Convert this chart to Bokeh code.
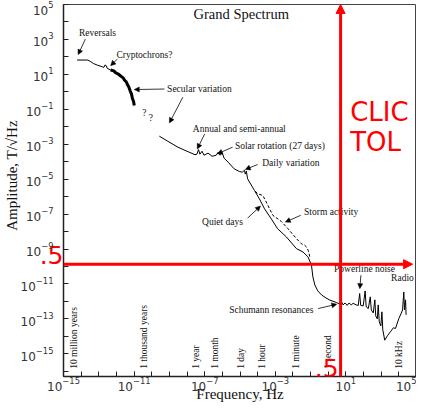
import numpy as np
from bokeh.plotting import figure
from bokeh.models import FixedTicker, LogTickFormatter, Label, Arrow, NormalHead, Range1d, LogAxis
from bokeh.embed import file_html
from bokeh.resources import INLINE

# ---------------- data (log10 of frequency in Hz, log10 of amplitude in T/sqrt(Hz))
reversal_logf = [-14.23, -13.62, -13.45, -13.30, -13.09, -12.93, -12.80, -12.71, -12.65, -12.57, -12.52, -12.33, -12.06]
reversal_loga = [1.82, 1.82, 1.72, 1.62, 1.53, 1.48, 1.43, 1.40, 1.54, 1.49, 1.34, 1.25, 1.14]

secular_logf = [-12.33, -12.15, -12.06, -11.90, -11.78, -11.62, -11.55, -11.45, -11.38, -11.30, -11.23, -11.15, -11.09, -11.03, -10.99]
secular_loga = [1.25, 1.20, 1.10, 1.02, 0.92, 0.80, 0.68, 0.58, 0.42, 0.28, 0.07, -0.12, -0.40, -0.55, -0.79]

main_logf = [-9.57, -9.09, -8.52, -7.94, -7.55, -7.44, -7.35, -7.27, -7.15, -7.04, -6.81, -6.58, -6.35,
             -6.24, -6.12, -6.01, -5.90, -5.67, -5.33, -5.04, -4.87, -4.75, -4.70, -4.64, -4.57, -4.18,
             -3.90, -3.61, -3.23, -2.87, -2.37, -1.80, -1.43, -1.14, -0.95, -0.87, -0.76, -0.59, -0.38,
             -0.13, 0.10, 0.48, 0.61, 0.73, 0.84, 0.95, 1.07, 1.18, 1.30, 1.41, 1.58, 1.70, 1.78, 1.84,
             1.98, 2.09, 2.15, 2.27, 2.38, 2.44, 2.55, 2.64, 2.69, 2.78, 2.83, 2.89, 2.98, 3.04, 3.09,
             3.20, 3.35, 3.52, 3.69, 3.81, 4.00, 4.12, 4.21, 4.28, 4.32, 4.38, 4.41]
main_loga = [-2.54, -2.83, -3.17, -3.43, -3.60, -3.57, -3.31, -3.57, -3.40, -3.63, -3.51, -3.69, -3.63,
             -3.46, -3.63, -3.49, -3.80, -4.03, -4.41, -4.56, -4.60, -4.49, -4.71, -4.54, -4.98, -5.65,
             -6.13, -6.70, -7.27, -7.84, -8.31, -8.98, -9.17, -9.46, -9.93, -10.60, -11.06, -11.40, -11.63,
             -11.80, -11.93, -12.07, -12.14, -11.97, -12.20, -12.09, -12.23, -12.09, -12.20, -12.11, -12.20,
             -12.23, -11.55, -12.23, -12.26, -11.40, -12.31, -12.41, -11.74, -12.49, -12.66, -11.91, -12.83,
             -13.00, -12.20, -13.17, -13.40, -12.60, -13.63, -14.22, -13.97, -13.74, -13.51, -13.55, -12.98,
             -12.71, -12.49, -11.46, -12.49, -11.91, -12.77]

storm_logf = [-4.13, -4.00, -3.71, -3.42, -3.14, -2.66, -2.28, -1.80, -1.52, -1.33, -1.23, -1.14, -1.04]
storm_loga = [-5.69, -5.84, -5.93, -6.50, -7.07, -7.42, -7.84, -8.41, -8.70, -8.79, -8.89, -9.07, -9.46]

# period marks along the bottom (label, log10 frequency)
period_labels = ["10 million years", "1 thousand years", "1 year", "1 month", "1 day",
                 "1 hour", "1 minute", "1 second", "10 kHz"]
period_logf = [-14.42, -10.46, -7.48, -6.41, -4.94, -3.74, -1.84, -0.03, 4.03]

# annotations: text, log10 f, log10 A
notes = [("Reversals", -14.12, 3.36), ("Cryptochrons?", -12.00, 2.11),
         ("Secular variation", -9.13, 0.16), ("Annual and semi-annual", -7.67, -2.14),
         ("Solar rotation (27 days)", -5.29, -3.13), ("Daily variation", -3.74, -4.09),
         ("Quiet days", -7.15, -7.46), ("Storm activity", -1.37, -6.89),
         ("Powerline noise", 0.33, -10.13), ("Radio", 3.56, -10.64),
         ("Schumann resonances", -5.61, -12.50)]
question_marks = [(-10.42, -1.21), (-10.05, -1.51)]
# arrows: log10 f start, log10 A start, log10 f end, log10 A end
note_arrows = [(-13.76, 3.02, -14.17, 2.13), (-11.95, 1.87, -12.33, 1.50),
               (-9.28, 0.16, -10.99, 0.13), (-8.24, -0.31, -9.00, -1.78),
               (-7.00, -2.41, -7.42, -3.27), (-5.42, -3.17, -6.28, -3.55),
               (-4.00, -4.16, -4.70, -4.45), (-4.57, -7.23, -3.84, -6.54),
               (-1.56, -7.07, -2.43, -7.46), (1.85, -10.50, 1.79, -11.27),
               (-0.57, -12.41, 0.48, -12.16)]

# CLIC tolerance overlay
tol_freq = 5.0          # Hz
tol_amp = 1.35e-10      # T/sqrt(Hz)
tol_label = ".5"
tol_label_amp = 10 ** -9.33   # where the left ".5" sits (just above the tolerance line)

X_MIN, X_MAX = 1e-15, 1e5
Y_MIN, Y_MAX = 10 ** -16.3, 1e5

def pw(a):
    return [10.0 ** v for v in a]

p = figure(width=416, height=404, x_axis_type="log", y_axis_type="log",
           x_range=Range1d(X_MIN, X_MAX), y_range=Range1d(Y_MIN, Y_MAX),
           output_backend="svg", toolbar_location=None,
           min_border_left=58, min_border_right=0, min_border_top=4, min_border_bottom=0)
p.grid.visible = False
p.background_fill_color = "white"
p.border_fill_color = "white"
p.outline_line_color = "#444444"
p.outline_line_width = 1

red = "#ff0000"
xa = p.xaxis[0]
ya = p.yaxis[0]
xa.ticker = FixedTicker(ticks=[1e-15, 1e-11, 1e-7, 1e-3, 1e1, 1e5],
                        minor_ticks=[10.0 ** k for k in range(-15, 6)])
ya.ticker = FixedTicker(ticks=[10.0 ** k for k in range(-15, 6, 2)], minor_ticks=[])
for ax in (xa, ya):
    ax.formatter = LogTickFormatter()
    ax.major_tick_in = 5
    ax.major_tick_out = 0
    ax.minor_tick_in = 5
    ax.minor_tick_out = 0
    ax.axis_line_width = 1.5
    ax.axis_line_color = "#222222"
    ax.major_tick_line_color = "#222222"
    ax.minor_tick_line_color = "#222222"
    ax.major_label_text_font = "DejaVu Sans"
    ax.major_label_text_font_size = "12px"
    ax.major_label_text_color = "#333333"
    ax.axis_label_text_font = "Liberation Serif"
    ax.axis_label_text_font_style = "normal"
    ax.axis_label_text_font_size = "15px"
    ax.axis_label_text_color = "#111111"
xa.axis_label = "Frequency, Hz"
ya.axis_label = "\u00a0" * 8 + "Amplitude, T/√Hz"
xa.major_label_standoff = 0
xa.axis_label_standoff = -8

# inner left axis: frame-side axis line, decade ticks and the red ".5" mark
red_axis = LogAxis(ticker=FixedTicker(ticks=[tol_label_amp], minor_ticks=[10.0 ** k for k in range(-16, 6)]),
                   major_label_overrides={tol_label_amp: tol_label},
                   axis_line_width=1.5, axis_line_color="#222222",
                   major_tick_in=0, major_tick_out=0, minor_tick_in=5, minor_tick_out=0,
                   minor_tick_line_color="#222222",
                   major_label_standoff=0, major_label_text_font="DejaVu Sans",
                   major_label_text_font_size="25px", major_label_text_color=red)
# the labelled axis sits outside it, with its own line and ticks hidden
ya.axis_line_color = None
ya.major_tick_line_color = None
ya.major_tick_in = 0
ya.minor_tick_in = 0
ya.major_label_standoff = -17
ya.axis_label_standoff = -2
p.left = [red_axis, ya]

# spectrum
p.line(pw(reversal_logf), pw(reversal_loga), line_color="black", line_width=1)
p.line(pw(secular_logf), pw(secular_loga), line_color="black", line_width=3)
p.line(pw(main_logf), pw(main_loga), line_color="black", line_width=1)
p.line(pw(storm_logf), pw(storm_loga), line_color="black", line_width=1, line_dash="3 2")

serif = "Liberation Serif"
p.add_layout(Label(x=10 ** -4.93, y=10 ** 4.43, text="Grand Spectrum", text_font=serif,
                   text_font_size="14.5px", text_align="center", text_baseline="middle",
                   text_color="#111111"))
for t, lf, la in notes:
    p.add_layout(Label(x=10 ** lf, y=10 ** la, text=t, text_font=serif, text_font_size="9.5px",
                       text_align="left", text_baseline="middle", text_color="#111111"))
for lf, la in question_marks:
    p.add_layout(Label(x=10 ** lf, y=10 ** la, text="?", text_font=serif, text_font_size="9.5px",
                       text_align="center", text_baseline="middle", text_color="#111111"))
for xs, ys, xe, ye in note_arrows:
    p.add_layout(Arrow(end=NormalHead(size=5, fill_color="black", line_color="black", line_width=0.5),
                       x_start=10 ** xs, y_start=10 ** ys, x_end=10 ** xe, y_end=10 ** ye,
                       line_color="black", line_width=0.8))
for t, lf in zip(period_labels, period_logf):
    p.add_layout(Label(x=10 ** lf, y=10 ** -15.86, text=t, angle=np.pi / 2, text_font=serif,
                       text_font_size="9.5px", text_align="left", text_baseline="middle",
                       text_color="#111111"))

# red tolerance overlay
p.add_layout(Arrow(end=NormalHead(size=9, fill_color=red, line_color=red, line_width=1),
                   x_start=tol_freq, y_start=Y_MIN, x_end=tol_freq, y_end=Y_MAX,
                   line_color=red, line_width=3))
p.add_layout(Arrow(end=NormalHead(size=9, fill_color=red, line_color=red, line_width=1),
                   x_start=X_MIN, y_start=tol_amp, x_end=10 ** 4.78, y_end=tol_amp,
                   line_color=red, line_width=3))
p.add_layout(Label(x=tol_freq, y=Y_MIN, text=tol_label, text_font="DejaVu Sans", text_font_size="25px",
                   text_align="right", text_baseline="bottom", text_color=red, x_offset=-2))
p.add_layout(Label(x=10 ** 1.24, y=10 ** -1.17, text="CLIC", text_font="DejaVu Sans",
                   text_font_size="26px", text_align="left", text_baseline="alphabetic", text_color=red))
p.add_layout(Label(x=10 ** 1.24, y=10 ** -2.89, text="TOL", text_font="DejaVu Sans",
                   text_font_size="26px", text_align="left", text_baseline="alphabetic", text_color=red))

open("out.html", "w").write(file_html(p, INLINE))
